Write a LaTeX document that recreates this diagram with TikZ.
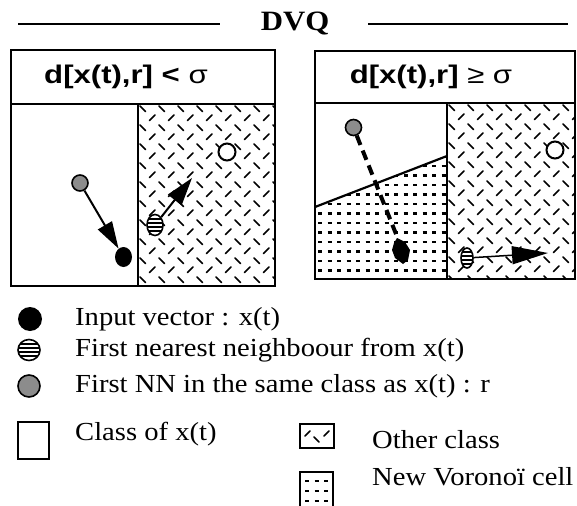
\documentclass[tikz,border=0pt]{standalone}
\usepackage{fontspec}
\setmainfont{Liberation Serif}[FakeStretch=1.1]
\newfontfamily\hdrfont{Liberation Sans}[FakeStretch=1.22]
\usetikzlibrary{arrows.meta,shapes.geometric}
\begin{document}
\begin{tikzpicture}[x=1pt,y=-1pt,
  panel/.style={line width=2.2pt},
  hatchln/.style={line width=1.6pt,line cap=round},
  dotln/.style={line width=2.3pt},
  hdr/.style={font=\hdrfont\fontsize{25.5}{28}\selectfont\bfseries,inner sep=0pt},
  leg/.style={font=\fontsize{26}{29}\selectfont,anchor=west,inner sep=0pt},
  blackdot/.style={ellipse,fill=black,inner sep=0pt,minimum width=#1},
  graydot/.style={circle,draw,line width=1.6pt,fill=black!45,inner sep=0pt,minimum size=#1},
  hollow/.style={circle,draw,line width=2pt,fill=white,inner sep=0pt,minimum size=17pt},
  striped/.style={ellipse,draw,line width=1.6pt,fill=white,inner sep=0pt,
    path picture={\foreach \k in {-6,-2,2,6}
      \draw[line width=2pt] ([yshift=\k pt]path picture bounding box.west) -- ([yshift=\k pt]path picture bounding box.east);}},
  bigarrow/.style={line width=2pt,-{Triangle[length=#1]}},
]
\useasboundingbox (0,0) rectangle (577,505);
\fill[white] (0,0) rectangle (577,505);

% title
\node[font=\fontsize{28}{30}\selectfont\bfseries,inner sep=0pt] (title) at (295,24) {DVQ};
\coordinate (t1) at (18,24); \coordinate (t2) at (220,24);
\coordinate (t3) at (368,24); \coordinate (t4) at (568,24);
\draw[line width=1.5pt] (t1) -- (t2);
\draw[line width=1.5pt] (t3) -- (t4);

% ---------- left panel ----------
\begin{scope}
\clip (138,104) rectangle (275,286);
\foreach \i in {0,...,8} \foreach \j in {0,...,10} {
  \draw[hatchln] (140+19*\i,106+19*\j) -- ++(5.5,5.5);
  \draw[hatchln] (149.5+19*\i,125.5+19*\j-5) -- ++(5.5,-5.5);
}
\end{scope}
\draw[panel] (11,50) rectangle (275,286);
\draw[panel] (11,104) -- (275,104);
\draw[panel] (138,104) -- (138,286);
\node[hdr] (hL) at (126,77) {d[x(t),r] < \mdseries σ};

\node[hollow] (oL) at (227,152) {};
\node[graydot=16pt] (rL) at (80,183) {};
\node[blackdot=17pt,minimum height=20pt] (xL) at (123.5,257) {};
\node[striped,minimum width=16pt,minimum height=21pt] (nL) at (155,225) {};
\coordinate (aL) at (192,178);
\draw[bigarrow={27pt,width=16pt}] (rL) -- (xL);
\draw[bigarrow={28pt,width=17pt}] (nL) -- (aL);

% ---------- right panel ----------
\begin{scope}
\clip (447,103) rectangle (575,279);
\foreach \i in {0,...,7} \foreach \j in {0,...,10} {
  \draw[hatchln] (449+19*\i,105+19*\j) -- ++(5.5,5.5);
  \draw[hatchln] (458.5+19*\i,124.5+19*\j-5) -- ++(5.5,-5.5);
}
\end{scope}
\begin{scope}
\clip (315,207) -- (447,156) -- (447,279) -- (315,279) -- cycle;
\foreach \i in {0,...,14} \foreach \j in {0,...,14} {
  \draw[dotln] (318+9.5*\i,147+9.5*\j) -- ++(4,0);
}
\end{scope}
\draw[panel] (315,51) rectangle (575,279);
\draw[panel] (315,103) -- (575,103);
\draw[panel] (447,103) -- (447,279);
\coordinate (s1) at (315,207); \coordinate (s2) at (447,156);
\draw[panel] (s1) -- (s2);
\node[hdr] (hR) at (431,77) {d[x(t),r] \mdseries ≥ σ};

\node[hollow] (oR) at (555,150) {};
\node[graydot=16pt] (rR) at (353.5,127.5) {};
\coordinate (xR) at (398,239);
\fill (397,238) -- (405,242) -- (410,250) -- (408,260) -- (403,264) -- (395,258) -- (392,250) -- (394,243) -- cycle;
\draw[line width=4pt,dash pattern=on 10pt off 6pt] (rR) -- (xR);
\node[striped,minimum width=12pt,minimum height=20pt] (nR) at (467,258) {};
\coordinate (aR) at (548,253);
\draw[line width=1.5pt,-{Triangle[length=36pt,width=18pt]}] (nR) -- (aR);

% ---------- legend ----------
\node[blackdot=24pt,minimum height=24pt] (lb) at (30,319) {};
\node[leg] (tb) at (75,319) {Input vector : x(t)};
\node[striped,minimum width=22pt,minimum height=21pt] (ls) at (29,350) {};
\node[leg] (ts) at (75,350) {First nearest neighboour from x(t)};
\node[graydot=22pt] (lg) at (29,386) {};
\node[leg] (tg) at (75,386) {First NN in the same class as x(t) : r};
\node[draw,line width=2pt,minimum width=31pt,minimum height=37pt,inner sep=0pt] (lc) at (33,440) {};
\node[leg] (tc) at (75,434) {Class of x(t)};

\begin{scope}
\clip (300,424) rectangle (334,448);
\draw[hatchln] (305,436) -- ++(5,-5);
\draw[hatchln] (314,437) -- ++(5,5);
\draw[hatchln] (324,436) -- ++(5,-5);
\end{scope}
\draw[line width=2pt] (300,424) rectangle (334,448);
\node[leg] (to) at (372,440) {Other class};

\coordinate (nv1) at (300,508); \coordinate (nv2) at (300,472);
\coordinate (nv3) at (333,472); \coordinate (nv4) at (333,508);
\foreach \i in {0,...,2} \foreach \j in {0,1,2} {
  \draw[dotln] (305+9.5*\i,481+10*\j) -- ++(4,0);
}
\draw[line width=2pt] (nv1) -- (nv2) -- (nv3) -- (nv4);
\node[leg] (tn) at (372,477) {New Voronoï cell};
\end{tikzpicture}
\end{document}
